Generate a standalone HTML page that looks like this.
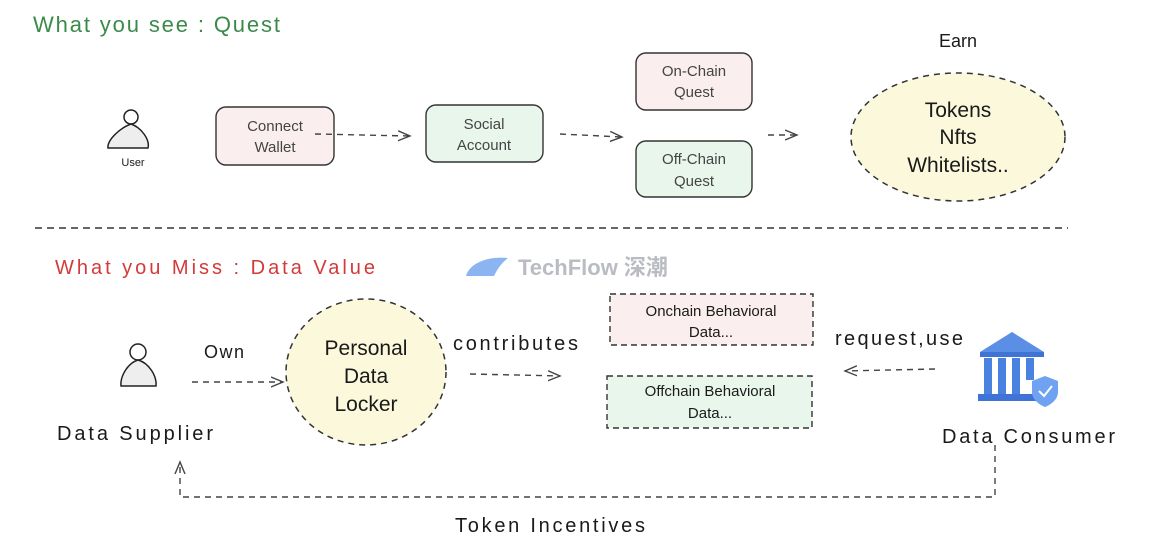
<!DOCTYPE html>
<html><head><meta charset="utf-8"><style>
html,body{margin:0;padding:0;background:#fff;width:1152px;height:555px;overflow:hidden}
svg text{font-family:"Liberation Sans","Noto Sans CJK SC",sans-serif}
</style></head><body>
<svg width="1152" height="555" viewBox="0 0 1152 555" xmlns="http://www.w3.org/2000/svg">
<defs>
<marker id="ah" markerWidth="14" markerHeight="12" refX="12" refY="6" orient="auto" markerUnits="userSpaceOnUse">
<path d="M0,1 L12,6 L0,11" fill="none" stroke="#444" stroke-width="1.4"/></marker>
</defs>
<g fill="#1a1a1a">
<text x="33" y="32" font-size="22" fill="#3a8a4a" textLength="247" lengthAdjust="spacing">What you see : Quest</text>
<circle cx="131" cy="117" r="7" fill="#fff" stroke="#222" stroke-width="1.5"/>
<path d="M131,124 C120,128 107,140 108,148 L148,148 C150,140 142,128 131,124Z" fill="#eee" stroke="#222" stroke-width="1.5"/>
<text x="133" y="166" font-size="11" text-anchor="middle">User</text>
<rect x="216" y="107" width="118" height="58" rx="10" fill="#fbeeee" stroke="#333" stroke-width="1.4"/>
<text x="275" y="131" font-size="15" text-anchor="middle" fill="#444">Connect</text>
<text x="275" y="152" font-size="15" text-anchor="middle" fill="#444">Wallet</text>
<line x1="315" y1="134" x2="410" y2="136" stroke="#444" stroke-width="1.4" stroke-dasharray="6,5" marker-end="url(#ah)"/>
<rect x="426" y="105" width="117" height="57" rx="10" fill="#e9f6ec" stroke="#333" stroke-width="1.4"/>
<text x="484" y="129" font-size="15" text-anchor="middle" fill="#444">Social</text>
<text x="484" y="150" font-size="15" text-anchor="middle" fill="#444">Account</text>
<line x1="560" y1="134" x2="622" y2="137" stroke="#444" stroke-width="1.4" stroke-dasharray="6,5" marker-end="url(#ah)"/>
<rect x="636" y="53" width="116" height="57" rx="10" fill="#fbeeee" stroke="#333" stroke-width="1.4"/>
<text x="694" y="76" font-size="15" text-anchor="middle" fill="#444">On-Chain</text>
<text x="694" y="97" font-size="15" text-anchor="middle" fill="#444">Quest</text>
<rect x="636" y="141" width="116" height="56" rx="10" fill="#e9f6ec" stroke="#333" stroke-width="1.4"/>
<text x="694" y="164" font-size="15" text-anchor="middle" fill="#444">Off-Chain</text>
<text x="694" y="186" font-size="15" text-anchor="middle" fill="#444">Quest</text>
<line x1="768" y1="135" x2="797" y2="135" stroke="#444" stroke-width="1.4" stroke-dasharray="6,5" marker-end="url(#ah)"/>
<text x="958" y="47" font-size="18" text-anchor="middle">Earn</text>
<ellipse cx="958" cy="137" rx="107" ry="64" fill="#fbf8dc" stroke="#333" stroke-width="1.5" stroke-dasharray="6,5"/>
<text x="958" y="117" font-size="21" text-anchor="middle">Tokens</text>
<text x="958" y="144" font-size="21" text-anchor="middle">Nfts</text>
<text x="958" y="172" font-size="21" text-anchor="middle">Whitelists..</text>
<line x1="35" y1="228" x2="1068" y2="228" stroke="#333" stroke-width="1.4" stroke-dasharray="7,5"/>
<text x="55" y="274" font-size="20" fill="#d43a3a" textLength="320" lengthAdjust="spacing">What you Miss : Data Value</text>
<path d="M466,276 C470,262 490,256 508,258 C500,264 496,272 494,276Z" fill="#8cb4f0"/>
<text x="518" y="275" font-size="22" fill="#b9bcc2" font-weight="bold">TechFlow 深潮</text>
<circle cx="138" cy="352" r="8" fill="#fff" stroke="#222" stroke-width="1.5"/>
<path d="M138,360 C128,363 120,376 121,386 L156,386 C157,376 149,363 138,360Z" fill="#eee" stroke="#222" stroke-width="1.5"/>
<text x="57" y="440" font-size="20" textLength="156" lengthAdjust="spacing">Data Supplier</text>
<text x="204" y="358" font-size="18" textLength="40" lengthAdjust="spacing">Own</text>
<line x1="192" y1="382" x2="283" y2="382" stroke="#444" stroke-width="1.4" stroke-dasharray="6,5" marker-end="url(#ah)"/>
<ellipse cx="366" cy="372" rx="80" ry="73" fill="#fbf8dc" stroke="#333" stroke-width="1.5" stroke-dasharray="6,5"/>
<text x="366" y="355" font-size="21" text-anchor="middle">Personal</text>
<text x="366" y="383" font-size="21" text-anchor="middle">Data</text>
<text x="366" y="411" font-size="21" text-anchor="middle">Locker</text>
<text x="453" y="350" font-size="20" textLength="125" lengthAdjust="spacing">contributes</text>
<line x1="470" y1="374" x2="560" y2="376" stroke="#444" stroke-width="1.4" stroke-dasharray="6,5" marker-end="url(#ah)"/>
<rect x="610" y="294" width="203" height="51" fill="#fbeeee" stroke="#333" stroke-width="1.4" stroke-dasharray="6,4"/>
<text x="711" y="316" font-size="15" text-anchor="middle">Onchain Behavioral</text>
<text x="711" y="337" font-size="15" text-anchor="middle">Data...</text>
<rect x="607" y="376" width="205" height="52" fill="#e9f6ec" stroke="#333" stroke-width="1.4" stroke-dasharray="6,4"/>
<text x="710" y="396" font-size="15" text-anchor="middle">Offchain Behavioral</text>
<text x="710" y="418" font-size="15" text-anchor="middle">Data...</text>
<text x="835" y="345" font-size="20" textLength="128" lengthAdjust="spacing">request,use</text>
<line x1="935" y1="369" x2="845" y2="371" stroke="#444" stroke-width="1.4" stroke-dasharray="6,5" marker-end="url(#ah)"/>
<path d="M1012,332 L1044,352 L980,352Z" fill="#5b8fe6"/>
<rect x="980" y="352" width="64" height="5" fill="#3f74d6"/>
<rect x="984" y="358" width="8" height="36" fill="#4a82e0"/>
<rect x="998" y="358" width="8" height="36" fill="#4a82e0"/>
<rect x="1012" y="358" width="8" height="36" fill="#4a82e0"/>
<rect x="1026" y="358" width="8" height="22" fill="#4a82e0"/>
<rect x="978" y="394" width="58" height="7" fill="#3f74d6"/>
<path d="M1045,376 L1058,381 L1058,392 C1058,400 1050,405 1045,407 C1040,405 1032,400 1032,392 L1032,381Z" fill="#6fa2f0"/>
<path d="M1039,391 L1044,396 L1052,386" fill="none" stroke="#fff" stroke-width="2"/>
<text x="942" y="443" font-size="20" textLength="173" lengthAdjust="spacing">Data Consumer</text>
<path d="M995,445 L995,497 L180,497 L180,462" fill="none" stroke="#444" stroke-width="1.4" stroke-dasharray="6,5" marker-end="url(#ah)"/>
<text x="455" y="532" font-size="20" textLength="190" lengthAdjust="spacing">Token Incentives</text>
</g>
</svg>
</body></html>
